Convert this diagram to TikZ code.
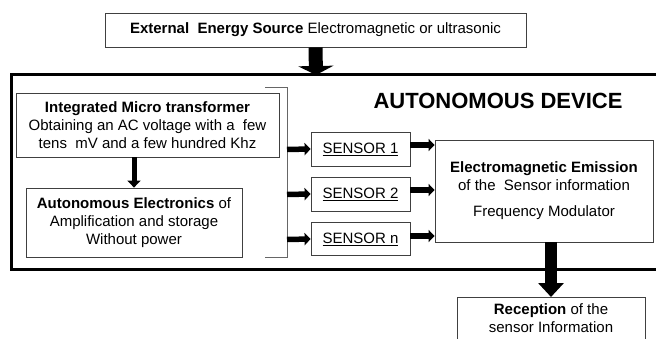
\documentclass[tikz,border=0pt]{standalone}
\usepackage{fontspec}
\setmainfont{Liberation Sans}
\usetikzlibrary{arrows.meta,calc}
\tikzset{
  box/.style={draw=black!75, line width=0.8pt, align=center, inner sep=0pt, font=\fontsize{15}{18}\selectfont},
  sensorbox/.style={box, minimum width=99pt},
  thinarrow/.style={line width=5.5pt, -{Triangle[width=12pt,length=6pt]}},
}
\begin{document}
\begin{tikzpicture}[x=1pt,y=-1pt]
\useasboundingbox (0,0) rectangle (656,339);
% autonomous device frame
\draw[line width=3pt] (680,75) -- (11,75) -- (11,269) -- (680,269);
\node[font=\fontsize{22}{26}\selectfont\bfseries] (title) at (498,101) {AUTONOMOUS DEVICE};
% top source
\node[box, minimum width=421pt, minimum height=34pt] (src) at (315.5,30)
  {\textbf{External\ \ Energy Source} Electromagnetic or ultrasonic};
\coordinate (frametop) at (316,75);
\draw[line width=14pt, -{Triangle[width=35pt,length=9pt]}] (src.south) -- (frametop);
% left boxes
\node[box, minimum width=263pt, minimum height=64pt] (imt) at (147.5,125)
  {\textbf{Integrated Micro transformer}\\Obtaining an AC voltage with a\ \ few\\tens\ \ mV and a few hundred Khz};
\node[box, minimum width=216pt, minimum height=69pt] (ae) at (134,222.5)
  {\textbf{Autonomous Electronics} of\\Amplification and storage\\Without power};
\draw[line width=5pt, -{Triangle[width=13pt,length=7pt]}] (imt.south -| ae.north) -- (ae.north);
% bracket
\draw[draw=black!60, line width=0.8pt] (265,87) -- (287,87) -- (287,257) -- (265,257);
\coordinate (b1) at (287,149.5);
\coordinate (b2) at (287,194.5);
\coordinate (b3) at (287,239.5);
% sensors
\node[sensorbox, minimum height=34pt] (s1) at (360.5,149) {\underline{SENSOR 1}};
\node[sensorbox, minimum height=34pt] (s2) at (360.5,194) {\underline{SENSOR 2}};
\node[sensorbox, minimum height=33pt] (s3) at (360.5,239) {\underline{SENSOR n}};
\draw[thinarrow] (b1) -- (s1.west);
\draw[thinarrow] (b2) -- (s2.west);
\draw[thinarrow] (b3) -- (s3.west);
% emission
\node[box, minimum width=218pt, minimum height=102pt] (emi) at (544,191)
  {\textbf{Electromagnetic Emission}\\of the\ \ Sensor information\\[8pt]Frequency Modulator};
\draw[thinarrow] ([yshift=4pt]s1.east) -- ([yshift=4pt]s1.east -| emi.west);
\draw[thinarrow] ([yshift=4pt]s2.east) -- ([yshift=4pt]s2.east -| emi.west);
\draw[thinarrow] ([yshift=3pt]s3.east) -- ([yshift=3pt]s3.east -| emi.west);
% reception
\node[box, anchor=north, minimum width=188pt, inner ysep=6pt] (rec) at (551,297)
  {\textbf{Reception} of the\\sensor Information\\ \strut};
\draw[line width=12pt, -{Triangle[width=25pt,length=14pt]}] (emi.south -| rec.north) -- (rec.north);
\end{tikzpicture}
\end{document}
